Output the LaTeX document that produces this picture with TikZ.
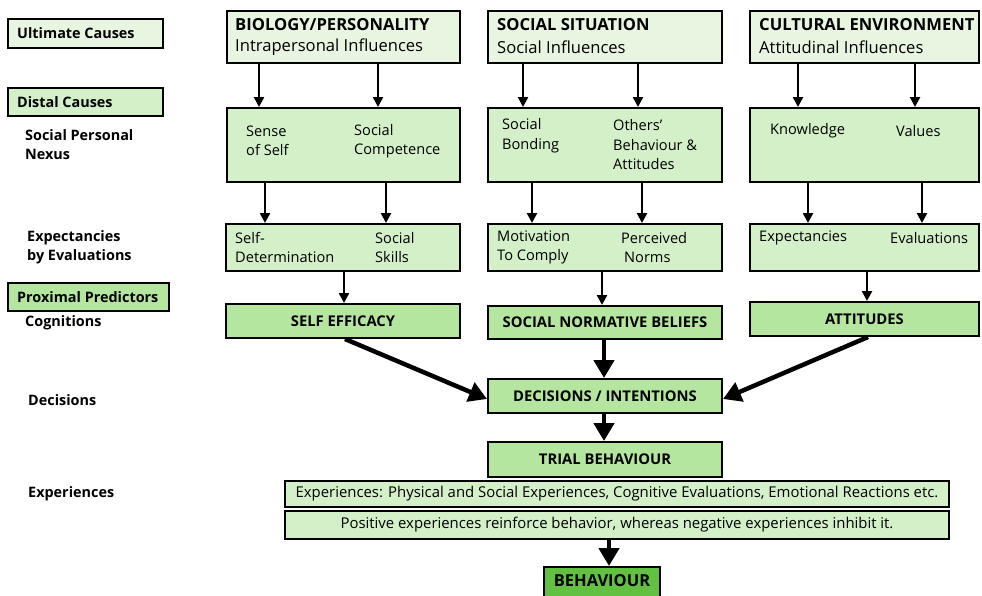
\documentclass[tikz,border=0pt]{standalone}
\usepackage{fontspec}
\setmainfont{Open Sans}
\usetikzlibrary{arrows.meta}
\definecolor{lgA}{HTML}{E8F5E1}
\definecolor{lgB}{HTML}{D4F0C8}
\definecolor{lgC}{HTML}{B5E6A0}
\definecolor{lgD}{HTML}{62C140}
\tikzset{
  box/.style={draw=black, line width=2pt, inner sep=0pt},
  boxA/.style={box, fill=lgA},
  boxB/.style={box, fill=lgB},
  boxC/.style={box, fill=lgC},
  txt/.style={anchor=west, inner sep=0pt, align=left, font=\fontsize{14.6}{19.5}\selectfont},
  ttl/.style={anchor=west, inner sep=0pt, font=\fontsize{16.6}{19}\selectfont\bfseries},
  sub/.style={anchor=west, inner sep=0pt, font=\fontsize{16.6}{19}\selectfont},
  lab/.style={anchor=west, inner sep=0pt, align=left, font=\fontsize{14.4}{19.5}\selectfont\bfseries},
  bold/.style={inner sep=0pt, font=\fontsize{14.8}{17}\selectfont\bfseries},
  thin/.style={line width=2.4pt, -{Triangle[length=10pt,width=10pt]}},
  thick/.style={line width=4.5pt, -{Triangle[length=18pt,width=20pt]}}
}
\begin{document}
\begin{tikzpicture}[x=1pt,y=-1pt]
\useasboundingbox (0,0) rectangle (982,595);
% left labels
\node[boxA, minimum width=155pt, minimum height=29pt] (ult) at (85.5,33.5) {};
\node[lab] (ultT) at (17,33.5) {Ultimate Causes};
\node[boxB, minimum width=155pt, minimum height=28pt] (dist) at (85.5,102) {};
\node[lab] (distT) at (17,102) {Distal Causes};
\node[lab] (spn) at (25,144.5) {Social Personal\\Nexus};
\node[lab] (ebe) at (27,247.5) {Expectancies\\by Evaluations};
\node[boxC, minimum width=161pt, minimum height=28pt] (prox) at (88.5,297) {};
\node[lab] (proxT) at (17,297) {Proximal Predictors};
\node[lab] (cog) at (25,323) {Cognitions};
\node[lab] (decL) at (28,400) {Decisions};
\node[lab] (expL) at (28,494) {Experiences};
% column 1
\node[boxA, minimum width=233pt, minimum height=52pt] (c1a) at (343.5,37) {};
\node[ttl] (c1aT) at (235,25) {BIOLOGY/PERSONALITY};
\node[sub] (c1aS) at (235,47) {Intrapersonal Influences};
\node[boxB, minimum width=233pt, minimum height=74pt] (c1b) at (343.5,145) {};
\node[txt] (c1b1) at (246,141) {Sense\\of Self};
\node[txt] (c1b2) at (354,141) {Social\\Competence};
\node[boxB, minimum width=234pt, minimum height=47pt] (c1c) at (343,247.5) {};
\node[txt] (c1c1) at (235,247.5) {Self-\\Determination};
\node[txt] (c1c2) at (375,247.5) {Social\\Skills};
\node[boxC, minimum width=234pt, minimum height=34pt] (c1d) at (343,321) {};
\node[bold] (c1dT) at (343,321) {SELF EFFICACY};
% column 2
\node[boxA, minimum width=234pt, minimum height=52pt] (c2a) at (605,37) {};
\node[ttl] (c2aT) at (497,25) {SOCIAL SITUATION};
\node[sub] (c2aS) at (497,47) {Social Influences};
\node[boxB, minimum width=234pt, minimum height=74pt] (c2b) at (605,145) {};
\node[txt] (c2b1) at (502,135.5) {Social\\Bonding};
\node[txt] (c2b2) at (613,145) {Others’\\Behaviour \&\\Attitudes};
\node[boxB, minimum width=234pt, minimum height=47pt] (c2c) at (605,247.5) {};
\node[txt] (c2c1) at (497,247.5) {Motivation\\To Comply};
\node[txt] (c2c2) at (621,247.5) {Perceived\\\hspace*{3pt}Norms};
\node[boxC, minimum width=234pt, minimum height=33pt] (c2d) at (605,322.5) {};
\node[bold] (c2dT) at (605,322.5) {SOCIAL NORMATIVE BELIEFS};
% column 3
\node[boxA, minimum width=229pt, minimum height=52pt] (c3a) at (864.5,37) {};
\node[ttl] (c3aT) at (759,25) {CULTURAL ENVIRONMENT};
\node[sub] (c3aS) at (759,47) {Attitudinal Influences};
\node[boxB, minimum width=229pt, minimum height=74pt] (c3b) at (864.5,145) {};
\node[txt] (c3b1) at (770,131) {Knowledge};
\node[txt] (c3b2) at (896,131) {Values};
\node[boxB, minimum width=229pt, minimum height=47pt] (c3c) at (864.5,247.5) {};
\node[txt] (c3c1) at (759,238) {Expectancies};
\node[txt] (c3c2) at (890,238) {Evaluations};
\node[boxC, minimum width=229pt, minimum height=34pt] (c3d) at (864.5,319) {};
\node[bold] (c3dT) at (864.5,319) {ATTITUDES};
% centre flow
\node[boxC, minimum width=234pt, minimum height=34pt] (dec) at (605,396) {};
\node[bold] (decT) at (605,396) {DECISIONS / INTENTIONS};
\node[boxC, minimum width=234pt, minimum height=35pt] (trial) at (605,459.5) {};
\node[bold] (trialT) at (605,459.5) {TRIAL BEHAVIOUR};
\node[boxB, minimum width=664pt, minimum height=26pt] (exp1) at (617,494) {};
\node[inner sep=0pt, font=\fontsize{14.9}{17}\selectfont] (exp1T) at (617,494) {Experiences: Physical and Social Experiences, Cognitive Evaluations, Emotional Reactions etc.};
\node[boxB, minimum width=664pt, minimum height=28pt] (exp2) at (617,525) {};
\node[inner sep=0pt, font=\fontsize{14.9}{17}\selectfont] (exp2T) at (617,525) {Positive experiences reinforce behavior, whereas negative experiences inhibit it.};
\node[box, fill=lgD, minimum width=116pt, minimum height=33pt] (beh) at (602,583.5) {};
\node[bold, font=\fontsize{16.5}{18}\selectfont\bfseries] (behT) at (602,581) {BEHAVIOUR};
% thin arrows
\draw[thin] (c1a.south -| 259,0) -- (c1b.north -| 259,0);
\draw[thin] (c1a.south -| 378,0) -- (c1b.north -| 378,0);
\draw[thin] (c1b.south -| 265,0) -- (c1c.north -| 265,0);
\draw[thin] (c1b.south -| 386,0) -- (c1c.north -| 386,0);
\draw[thin] (c1c.south -| 344,0) -- (c1d.north -| 344,0);
\draw[thin] (c2a.south -| 523,0) -- (c2b.north -| 523,0);
\draw[thin] (c2a.south -| 638,0) -- (c2b.north -| 638,0);
\draw[thin] (c2b.south -| 532,0) -- (c2c.north -| 532,0);
\draw[thin] (c2b.south -| 642,0) -- (c2c.north -| 642,0);
\draw[thin] (c2c.south -| 602,0) -- (c2d.north -| 602,0);
\draw[thin] (c3a.south -| 798,0) -- (c3b.north -| 798,0);
\draw[thin] (c3a.south -| 915,0) -- (c3b.north -| 915,0);
\draw[thin] (c3b.south -| 808,0) -- (c3c.north -| 808,0);
\draw[thin] (c3b.south -| 922,0) -- (c3c.north -| 922,0);
\draw[thin] (c3c.south -| 867,0) -- (c3d.north -| 867,0);
% thick arrows
\draw[thick] (c1d.south -| 345,0) -- ([yshift=-3pt]dec.west);
\draw[thick] (c2d.south -| 604,0) -- (dec.north -| 604,0);
\draw[thick] (c3d.south -| 868,0) -- ([yshift=-3pt]dec.east);
\draw[thick] (dec.south -| 604,0) -- (trial.north -| 604,0);
\draw[thick] (exp2.south -| 609,0) -- (beh.north -| 609,0);
\end{tikzpicture}
\end{document}
